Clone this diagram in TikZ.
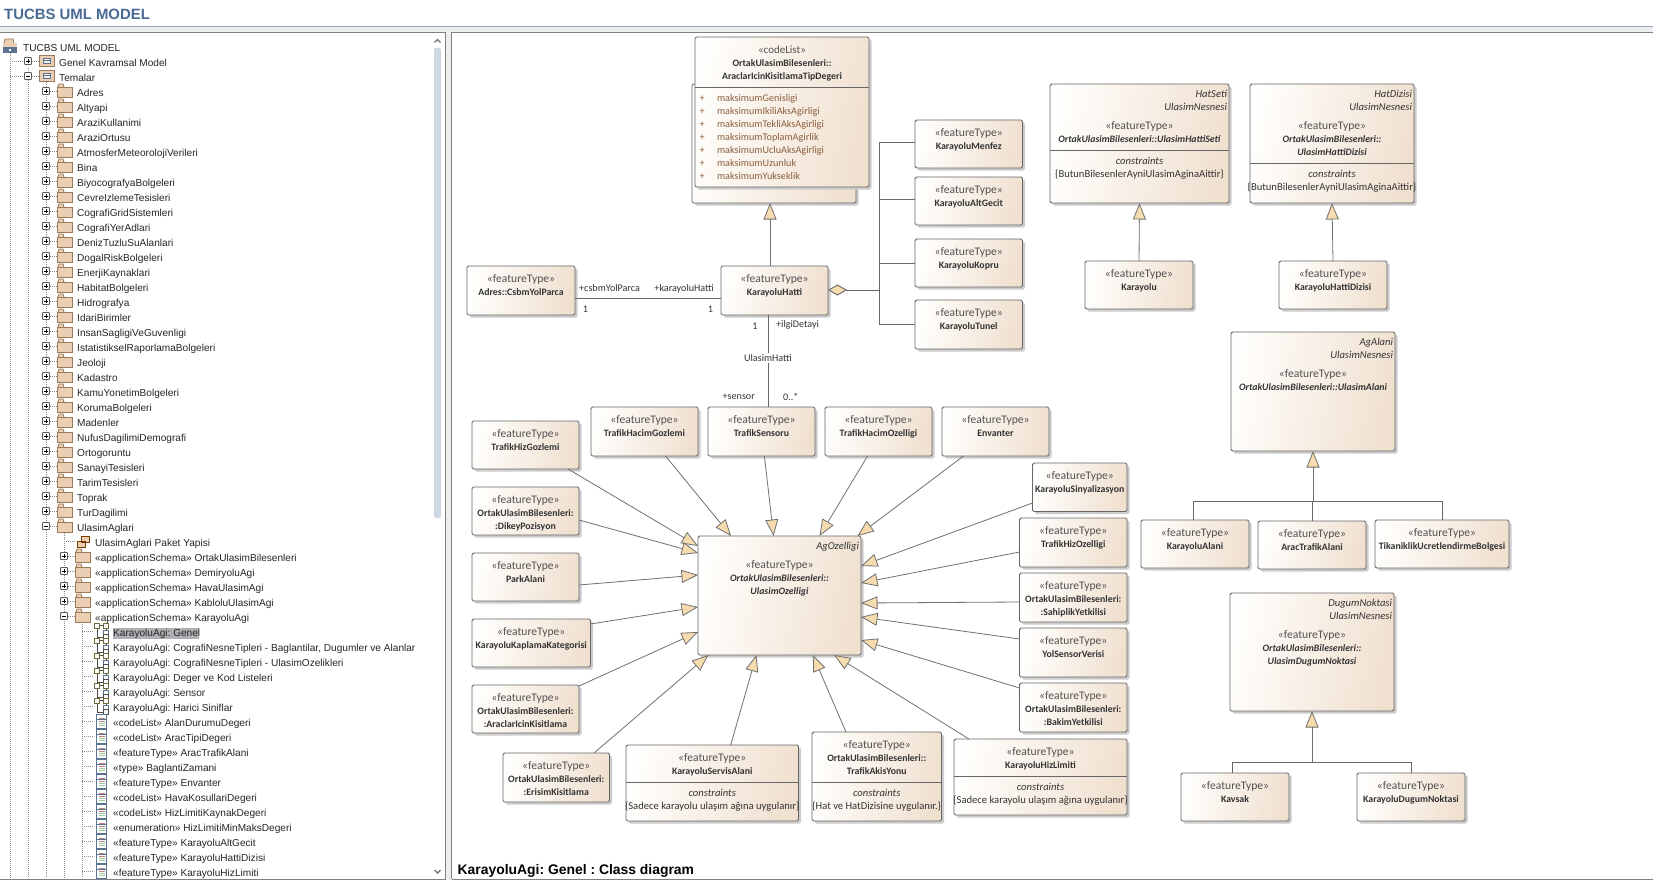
\documentclass[tikz,border=0pt]{standalone}
\usepackage{fontspec}
\setmainfont{Carlito}
\newfontfamily\treefont{Liberation Sans}
\usetikzlibrary{arrows.meta,shadows}
\definecolor{boxL}{HTML}{FFFEFC}
\definecolor{boxR}{HTML}{F0E0D0}
\definecolor{edge}{HTML}{666666}
\definecolor{arrowfill}{HTML}{F6DBAE}
\definecolor{inktext}{HTML}{333333}
\definecolor{attrtext}{HTML}{8C5E3C}
\definecolor{titleblue}{HTML}{4A6A96}
\definecolor{folderfill}{HTML}{EBCFB4}
\definecolor{folderedge}{HTML}{9C7B5A}
\definecolor{scrollc}{HTML}{CDD8E2}
\definecolor{iconblue}{HTML}{5A7390}
\definecolor{iconolive}{HTML}{6E6A3A}
\newcommand{\umlfont}{\fontsize{10.6}{13}\selectfont}
\newcommand{\ftp}{\strut{\fontsize{11.6}{13}\selectfont\textcolor{inktext!85}{«featureType»}}}
\newcommand{\nm}[1]{\strut{\fontsize{9.8}{13}\selectfont\textbf{#1}}}
\newcommand{\nmi}[1]{\strut{\fontsize{9.8}{13}\selectfont\textbf{\textit{#1}}}}
\newcommand{\umlcls}[5]{%
  \node[umlbox,minimum width={#4-#2},minimum height={#5-#3},anchor=north west] (#1) at (#2,#3) {};}
\newcommand{\umltxt}[3][7.4]{\node[umltext,anchor=north] (#2-t) at ([yshift=-#1]#2.north) {#3};}
\newcommand{\umlbx}[6]{\umlcls{#1}{#2}{#3}{#4}{#5}\umltxt{#1}{#6}}
\newcommand{\rlabels}[2]{\node[umltext,align=right,anchor=north east] (#1-r) at ([xshift=-2,yshift=-4.4]#1.north east) {#2};}
\newcommand{\divider}[2]{\draw[thinrule] ([yshift=-#2]#1.north west) -- ([yshift=-#2]#1.north east);}
\newcommand{\cons}[3]{\divider{#1}{#2}\node[umltext,anchor=north] (#1-c) at ([yshift=-#2-5.4]#1.north) {\strut\textit{constraints}\\\strut #3};}
% tree icons
\newcommand{\foldicon}[2]{%
  \draw[folderedge,fill=folderfill,line width=.8] (#1+1,#2-5) -- (#1+2,#2-8) -- (#1+6,#2-8) -- (#1+7,#2-5);
  \draw[folderedge,fill=folderfill,line width=.8] (#1,#2-5) rectangle (#1+15,#2+5);}
\newcommand{\expbox}[3]{%
  \draw[black!65,fill=white,line width=.8,rounded corners=.8] (#1-3.5,#2-3.5) rectangle (#1+3.5,#2+3.5);
  \draw[black,line width=.8] (#1-2,#2) -- (#1+2,#2);
  \ifnum#3=1 \draw[black,line width=.8] (#1,#2-2) -- (#1,#2+2);\fi}
\newcommand{\pkgicon}[2]{%
  \draw[folderedge,fill=folderfill,line width=.8] (#1,#2-5.5) rectangle (#1+15,#2+5.5);
  \draw[iconblue,fill=folderfill!40,line width=.6] (#1+4,#2-3) rectangle (#1+11,#2+2);
  \draw[iconblue,line width=.6] (#1+4,#2-.5) -- (#1+11,#2-.5);}
\newcommand{\diagicon}[2]{%
  \draw[black!70,line width=.8] (#1+3,#2-3) -- (#1+3,#2+6) -- (#1+9,#2+6);
  \draw[black!70,line width=.8] (#1+5,#2-5.5) -- (#1+9,#2-5.5) (#1+11.5,#2-3) -- (#1+11.5,#2+3);
  \draw[iconolive,line width=.8,fill=white] (#1,#2-8) rectangle (#1+5,#2-3);
  \draw[iconolive,line width=.8,fill=white] (#1+9,#2-8) rectangle (#1+14,#2-3);
  \draw[iconblue,line width=.8,fill=white] (#1+9,#2-1) rectangle (#1+14,#2+3);
  \draw[black!70,line width=.8,fill=white] (#1+9,#2+3.5) rectangle (#1+14,#2+8.5);}
\newcommand{\classicon}[2]{%
  \draw[iconblue,fill=white,line width=.8] (#1,#2-8) rectangle (#1+10,#2+6);
  \draw[red!50!black!50,line width=.7] (#1+2,#2-4) -- (#1+8,#2-4);
  \draw[iconblue,line width=.6] (#1,#2-2.5) -- (#1+10,#2-2.5);
  \draw[red!50!black!50,line width=.7] (#1+2,#2-.5) -- (#1+8,#2-.5);
  \draw[black!50!green!40,line width=.7] (#1+2,#2+1.5) -- (#1+8,#2+1.5) (#1+2,#2+3.5) -- (#1+8,#2+3.5);}
\newcommand{\rowtext}[3]{\node[treetext] at (#1,#2+4.4) {#3};}
\tikzset{
  umlbox/.style={draw=edge,line width=.9,rounded corners=1.6,left color=boxL,right color=boxR,shading angle=80,
    inner sep=0,outer sep=0,drop shadow={fill=black!20,opacity=1,shadow xshift=2.5pt,shadow yshift=-2.5pt}},
  umltext/.style={inner sep=0,outer sep=0,align=center,font=\umlfont,text=inktext},
  attr/.style={umltext,align=left,text=attrtext,font=\fontsize{10.2}{13}\selectfont},
  thinrule/.style={draw=edge,line width=.9},
  conn/.style={draw=edge,line width=.9},
  gen/.style={draw=black!56,line width=.8,-{Triangle[length=16.5pt,width=13pt,fill=arrowfill]}},
  agg/.style={draw=edge,line width=.9,{Diamond[length=19pt,width=11pt,fill=arrowfill]}-},
  rolelabel/.style={inner sep=0,font=\fontsize{10.1}{13}\selectfont,text=inktext},
  treetext/.style={anchor=base west,inner sep=0,font=\treefont\frenchspacing\fontsize{10.1}{12}\selectfont,text=black!85},
  treeline/.style={draw=black!45,line width=.7,dash pattern=on .9pt off 1.1pt},
}
\begin{document}
\begin{tikzpicture}[x=1pt,y=-1pt]
\useasboundingbox (0,0) rectangle (1653,880);
\fill[white] (0,0) rectangle (1653,880);
% window chrome
\node[anchor=base west,inner sep=0,font=\treefont\bfseries\fontsize{14.9}{16}\selectfont,text=titleblue] (title) at (4,19.5) {TUCBS UML MODEL};
\fill[black!7] (0,27) rectangle (1653,32);
\fill[black!7] (445,32) rectangle (451,880);
\draw[draw=titleblue!60,line width=1] (0,27) -- (1653,27);
\draw[draw=black!50,line width=1] (0,32.5) -- (445.5,32.5) -- (445.5,879) (451.5,879) -- (451.5,32.5) -- (1653,32.5);
\draw[draw=black!50,line width=1] (0,879.5) -- (445.5,879.5) (451.5,879.5) -- (1653,879.5);
% scrollbar
\fill[scrollc,rounded corners=2] (434,48) rectangle (441,518);
\draw[black!55,line width=1.4] (434.5,42.5) -- (437.5,39.5) -- (440.5,42.5);
\draw[black!55,line width=1.4] (434.5,870) -- (437.5,873) -- (440.5,870);
% tree lines
\draw[treeline] (10,53) -- (10,878) (28,68) -- (28,878) (46,80) -- (46,878) (64,533) -- (64,878) (82,622) -- (82,878);
\draw[treeline] (10,61) -- (39,61) (10,76) -- (39,76);
\foreach \i in {0,...,29} {\pgfmathsetmacro\yy{91+15*\i}\draw[treeline] (46,\yy) -- (57,\yy);}
\draw[treeline] (64,541) -- (76,541);
\foreach \i in {0,...,4} {\pgfmathsetmacro\yy{556+15*\i}\draw[treeline] (64,\yy) -- (75,\yy);}
\foreach \i in {0,...,16} {\pgfmathsetmacro\yy{631+15*\i}\draw[treeline] (82,\yy) -- (94,\yy);}
% root
\draw[folderedge,fill=folderfill,line width=.8] (4,44) -- (5,39) -- (13,39) -- (14,44);
\fill[folderfill] (3,43) rectangle (17,47);
\fill[iconblue] (3,47) rectangle (17,53);
\fill[white] (9,49) rectangle (11,51);
\rowtext{23}{47}{TUCBS UML MODEL}
% level 1
\expbox{28}{61}{1}\pkgicon{39}{61}\rowtext{59}{62}{Genel Kavramsal Model}
\expbox{28}{76}{0}\pkgicon{39}{76}\rowtext{59}{77}{Temalar}
% level 2
\foreach \lab [count=\i from 0] in {Adres,Altyapi,AraziKullanimi,AraziOrtusu,AtmosferMeteorolojiVerileri,Bina,BiyocografyaBolgeleri,CevreIzlemeTesisleri,CografiGridSistemleri,CografiYerAdlari,DenizTuzluSuAlanlari,DogalRiskBolgeleri,EnerjiKaynaklari,HabitatBolgeleri,Hidrografya,IdariBirimler,InsanSagligiVeGuvenligi,IstatistikselRaporlamaBolgeleri,Jeoloji,Kadastro,KamuYonetimBolgeleri,KorumaBolgeleri,Madenler,NufusDagilimiDemografi,Ortogoruntu,SanayiTesisleri,TarimTesisleri,Toprak,TurDagilimi} {
  \pgfmathsetmacro\yy{92+15*\i}
  \foldicon{57}{\yy}\expbox{46}{\yy-1}{1}\rowtext{77}{\yy}{\lab}
}
\foldicon{57}{527}\expbox{46}{526}{0}\rowtext{77}{527}{UlasimAglari}
% package diagram
\draw[black!40!orange!80!black,fill=folderfill,line width=.8] (81,536) rectangle (89,542) (77,541) rectangle (85,547) ;
\rowtext{95}{542}{UlasimAglari Paket Yapisi}
% level 3
\foreach \lab [count=\i from 0] in {OrtakUlasimBilesenleri,DemiryoluAgi,HavaUlasimAgi,KabloluUlasimAgi} {
  \pgfmathsetmacro\yy{557+15*\i}
  \foldicon{75}{\yy}\expbox{64}{\yy-1}{1}\rowtext{95}{\yy}{«applicationSchema» \lab}
}
\foldicon{75}{617}\expbox{64}{616}{0}\rowtext{95}{617}{«applicationSchema» KarayoluAgi}
% level 4
\fill[black!30!blue!5!gray!60] (113,628) rectangle (199,638.5);
\foreach \lab [count=\i from 0] in {{KarayoluAgi: Genel},{KarayoluAgi: CografiNesneTipleri - Baglantilar, Dugumler ve Alanlar},{KarayoluAgi: CografiNesneTipleri - UlasimOzelikleri},{KarayoluAgi: Deger ve Kod Listeleri},{KarayoluAgi: Sensor},{KarayoluAgi: Harici Siniflar}} {
  \pgfmathsetmacro\yy{632+15*\i}
  \diagicon{94.5}{\yy-1}\rowtext{113}{\yy}{\lab}
}
\foreach \lab [count=\i from 0] in {«codeList» AlanDurumuDegeri,«codeList» AracTipiDegeri,«featureType» AracTrafikAlani,«type» BaglantiZamani,«featureType» Envanter,«codeList» HavaKosullariDegeri,«codeList» HizLimitiKaynakDegeri,«enumeration» HizLimitiMinMaksDegeri,«featureType» KarayoluAltGecit,«featureType» KarayoluHattiDizisi,«featureType» KarayoluHizLimiti} {
  \pgfmathsetmacro\yy{722+15*\i}
  \classicon{96.5}{\yy}\rowtext{113}{\yy}{\lab}
}
% caption
\node[anchor=base west,inner sep=0,font=\treefont\bfseries\frenchspacing\fontsize{13.9}{16}\selectfont,text=black] (caption) at (457.5,874) {KarayoluAgi: Genel : Class diagram};

% ---------- UML classes ----------
\umlcls{back}{692}{84}{856}{203}
\umlbx{codelist}{695}{37}{869}{187}{\strut{\fontsize{11}{13}\selectfont\textcolor{inktext!85}{«codeList»}}\\\nm{OrtakUlasimBilesenleri::}\\\nm{AraclarIcinKisitlamaTipDegeri}}
\divider{codelist}{50}
\node[attr,anchor=north west] (codelist-p) at (699.5,92.4) {\strut+\\\strut+\\\strut+\\\strut+\\\strut+\\\strut+\\\strut+};
\node[attr,anchor=north west] (codelist-a) at (717,92.4) {\strut maksimumGenisligi\\\strut maksimumIkiliAksAgirligi\\\strut maksimumTekliAksAgirligi\\\strut maksimumToplamAgirlik\\\strut maksimumUcluAksAgirligi\\\strut maksimumUzunluk\\\strut maksimumYukseklik};

\umlbx{adres}{467}{266}{575}{315}{\ftp\\\nm{Adres::CsbmYolParca}}
\umlbx{khatti}{721}{266}{828}{315}{\ftp\\\nm{KarayoluHatti}}
\umlbx{menfez}{915}{120}{1022.5}{168}{\ftp\\\nm{KarayoluMenfez}}
\umlbx{altgecit}{915}{177}{1022.5}{225}{\ftp\\\nm{KarayoluAltGecit}}
\umlbx{kopru}{915}{239}{1022.5}{287}{\ftp\\\nm{KarayoluKopru}}
\umlbx{tunel}{915}{300}{1022.5}{349}{\ftp\\\nm{KarayoluTunel}}

\umlcls{hatseti}{1050}{84}{1229}{203}
\rlabels{hatseti}{\strut\textit{HatSeti}\\\strut\textit{UlasimNesnesi}}
\umltxt[36.4]{hatseti}{\ftp\\\nmi{OrtakUlasimBilesenleri::UlasimHattiSeti}}
\cons{hatseti}{66}{\{ButunBilesenlerAyniUlasimAginaAittir\}}
\umlcls{hatdizisi}{1250}{84}{1414}{203}
\rlabels{hatdizisi}{\strut\textit{HatDizisi}\\\strut\textit{UlasimNesnesi}}
\umltxt[36.4]{hatdizisi}{\ftp\\\nmi{OrtakUlasimBilesenleri::}\\\nmi{UlasimHattiDizisi}}
\cons{hatdizisi}{79}{\{ButunBilesenlerAyniUlasimAginaAittir\}}
\umlbx{karayolu}{1085}{261}{1193}{309}{\ftp\\\nm{Karayolu}}
\umlbx{khdizisi}{1279}{261}{1387}{309}{\ftp\\\nm{KarayoluHattiDizisi}}

\umlcls{agalani}{1231}{332}{1395}{451}
\rlabels{agalani}{\strut\textit{AgAlani}\\\strut\textit{UlasimNesnesi}}
\umltxt[36.4]{agalani}{\ftp\\\nmi{OrtakUlasimBilesenleri::UlasimAlani}}
\umlbx{kalani}{1141}{520}{1249}{568}{\ftp\\\nm{KarayoluAlani}}
\umlbx{aracalani}{1258}{521}{1366}{569}{\ftp\\\nm{AracTrafikAlani}}
\umlbx{tikanik}{1375}{520}{1509}{568}{\ftp\\\nm{TikaniklikUcretlendirmeBolgesi}}

\umlcls{dugum}{1230}{593}{1394}{711}
\rlabels{dugum}{\strut\textit{DugumNoktasi}\\\strut\textit{UlasimNesnesi}}
\umltxt[36.4]{dugum}{\ftp\\\nmi{OrtakUlasimBilesenleri::}\\\nmi{UlasimDugumNoktasi}}
\umlbx{kavsak}{1181}{773}{1289}{821}{\ftp\\\nm{Kavsak}}
\umlbx{kdugum}{1357}{773}{1465}{821}{\ftp\\\nm{KarayoluDugumNoktasi}}

\umlcls{central}{698}{536}{861}{655}
\node[umltext,align=right,anchor=north east] (central-r) at ([xshift=-2,yshift=-4.4]central.north east) {\strut\textit{AgOzelligi}};
\umltxt[23.4]{central}{\ftp\\\nmi{OrtakUlasimBilesenleri::}\\\nmi{UlasimOzelligi}}

\umlbx{thg}{472}{421}{579}{469}{\ftp\\\nm{TrafikHizGozlemi}}
\umlbx{thcg}{591}{407}{698}{456}{\ftp\\\nm{TrafikHacimGozlemi}}
\umlbx{sensoru}{708}{407}{815}{456}{\ftp\\\nm{TrafikSensoru}}
\umlbx{thco}{825}{407}{932}{456}{\ftp\\\nm{TrafikHacimOzelligi}}
\umlbx{envanter}{942}{407}{1049}{456}{\ftp\\\nm{Envanter}}
\umlbx{dikey}{472}{487}{579}{535}{\ftp\\\nm{OrtakUlasimBilesenleri:}\\\nm{:DikeyPozisyon}}
\umlbx{park}{472}{553}{579}{601}{\ftp\\\nm{ParkAlani}}
\umlbx{kaplama}{472}{619}{590.5}{667}{\ftp\\\nm{KarayoluKaplamaKategorisi}}
\umlbx{aracki}{472}{685}{579}{733}{\ftp\\\nm{OrtakUlasimBilesenleri:}\\\nm{:AraclarIcinKisitlama}}
\umlbx{erisim}{503}{753}{609.5}{802}{\ftp\\\nm{OrtakUlasimBilesenleri:}\\\nm{:ErisimKisitlama}}
\umlbx{servis}{626}{745}{798.5}{821}{\ftp\\\nm{KarayoluServisAlani}}
\cons{servis}{37}{\{Sadece karayolu ulaşım ağına uygulanır\}}
\umlbx{akis}{812}{732}{941.5}{821}{\ftp\\\nm{OrtakUlasimBilesenleri::}\\\nm{TrafikAkisYonu}}
\cons{akis}{50}{\{Hat ve HatDizisine uygulanır.\}}
\umlbx{hizlim}{954}{739}{1127}{815}{\ftp\\\nm{KarayoluHizLimiti}}
\cons{hizlim}{37}{\{Sadece karayolu ulaşım ağına uygulanır\}}
\umlbx{sinyal}{1032.5}{463}{1127}{511.5}{\ftp\\\nm{KarayoluSinyalizasyon}}
\umlbx{thoz}{1019.5}{518}{1127}{567}{\ftp\\\nm{TrafikHizOzelligi}}
\umlbx{sahip}{1019.5}{573}{1127}{622}{\ftp\\\nm{OrtakUlasimBilesenleri:}\\\nm{:SahiplikYetkilisi}}
\umlbx{yolsen}{1019.5}{628}{1127}{677}{\ftp\\\nm{YolSensorVerisi}}
\umlbx{bakim}{1019.5}{683}{1127}{732}{\ftp\\\nm{OrtakUlasimBilesenleri:}\\\nm{:BakimYetkilisi}}

% ---------- connectors ----------
\draw[gen] ([xshift=-4.5]khatti.north) -- ([xshift=-4]back.south);
\draw[conn] ([yshift=-32]adres.north east) -- ([yshift=-32]khatti.north west);
\coordinate (aggbus) at (879,290);
\draw[agg] ([yshift=-24]khatti.north east) -- (aggbus);
\draw[conn] ([yshift=2]menfez.west -| aggbus) -- ([yshift=2]menfez.west);
\draw[conn] ([yshift=2]altgecit.west -| aggbus) -- ([yshift=2]altgecit.west);
\draw[conn] (kopru.west -| aggbus) -- (kopru.west);
\draw[conn] (tunel.west -| aggbus) -- (tunel.west);
\draw[conn] ([yshift=2]menfez.west -| aggbus) -- (tunel.west -| aggbus);
\draw[conn] ([xshift=-6.5]khatti.south) -- node[pos=.47,fill=white,inner sep=1.5,font=\fontsize{10.1}{13}\selectfont,text=inktext] (lblhat) {UlasimHatti} ([xshift=6.5]sensoru.north);
\node[rolelabel,anchor=west] (rcsbm) at (579,288) {+csbmYolParca};
\node[rolelabel,anchor=east] (rkh) at (714,288.5) {+karayoluHatti};
\node[rolelabel] (m1) at (585.5,309) {1};
\node[rolelabel] (m2) at (710.5,309) {1};
\node[rolelabel] (m3) at (755,326) {1};
\node[rolelabel,anchor=west] (rilgi) at (776,325) {+ilgiDetayi};
\node[rolelabel,anchor=east] (rsensor) at (755,397) {+sensor};
\node[rolelabel,anchor=west] (mstar) at (783,397) {0..*};

\draw[gen] (karayolu.north) -- (hatseti.south);
\draw[gen] (khdizisi.north) -- ([xshift=0]hatdizisi.south);

\coordinate (agbus) at (1313,501);
\draw[gen] (agbus) -- (agalani.south);
\draw[conn] ([xshift=-2]kalani.north) |- (agbus);
\draw[conn] (aracalani.north) |- (agbus);
\draw[conn] (tikanik.north) |- (agbus);
\coordinate (dgbus) at (1312,762);
\draw[gen] (dgbus) -- (dugum.south);
\draw[conn] ([xshift=-3]kavsak.north) |- (dgbus);
\draw[conn] (kdugum.north) |- (dgbus);

\draw[gen] ([xshift=96]thg.south west) -- ([yshift=-10]central.north west);
\draw[gen] ([yshift=-33]dikey.north east) -- ([yshift=-17]central.north west);
\draw[gen] ([yshift=-32]park.north east) -- ([yshift=-39]central.north west);
\draw[gen] ([yshift=-5]kaplama.north east) -- ([yshift=-71]central.north west);
\draw[gen] ([yshift=-1]aracki.north east) -- ([yshift=-96]central.north west);
\draw[gen] ([xshift=91]erisim.north west) -- ([xshift=10.4]central.south west);
\draw[gen] ([xshift=104.7]servis.north west) -- ([xshift=58.4]central.south west);
\draw[gen] ([xshift=34]akis.north west) -- ([xshift=114.8]central.south west);
\draw[gen] ([xshift=15]hizlim.north west) -- ([xshift=136]central.south west);
\draw[gen] ([yshift=-5]bakim.north west) -- ([yshift=15]central.south east);
\draw[gen] ([yshift=-11]yolsen.north west) -- ([yshift=38]central.south east);
\draw[gen] ([yshift=-29]sahip.north west) -- ([yshift=-67]central.north east);
\draw[gen] ([yshift=-34]thoz.north west) -- ([yshift=-47]central.north east);
\draw[gen] ([yshift=-40]sinyal.north west) -- ([yshift=-30]central.north east);
\draw[gen] ([xshift=21.5]envanter.south west) -- ([xshift=-3.6]central.north east);
\draw[gen] ([xshift=42.5]thco.south west) -- ([xshift=121.5]central.north west);
\draw[gen] ([xshift=56.4]sensoru.south west) -- ([xshift=75.6]central.north west);
\draw[gen] ([xshift=74.5]thcg.south west) -- ([xshift=33]central.north west);
\end{tikzpicture}
\end{document}
